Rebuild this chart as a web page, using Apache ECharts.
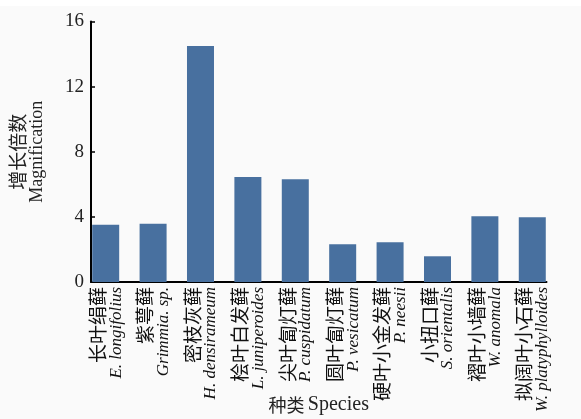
<!DOCTYPE html>
<html>
<head>
<meta charset="utf-8">
<script src="https://cdn.jsdelivr.net/npm/echarts@6/dist/echarts.min.js"></script>
<style>
  html, body { margin: 0; padding: 0; background: #fafafa; }
  body { border-top: 6px solid #ffffff; box-sizing: border-box; }
  #chart { width: 581px; height: 413px; }
</style>
</head>
<body>
<div id="chart"></div>
<script>
// Species names: Chinese common name and Latin name
const speciesZh = ['长叶绢藓', '紫萼藓', '密枝灰藓', '桧叶白发藓', '尖叶匐灯藓',
                   '圆叶匐灯藓', '硬叶小金发藓', '小扭口藓', '褶叶小墙藓', '拟阔叶小石藓'];
const speciesLatin = ['E. longifolius', 'Grimmia. sp.', 'H. densirameum', 'L. juniperoides', 'P. cuspidatum',
                      'P. vesicatum', 'P. neesii', 'S. orientalis', 'W. anomala', 'W. platyphylloides'];
// Growth magnification per species
const magnification = [3.52, 3.58, 14.5, 6.45, 6.31, 2.32, 2.44, 1.58, 4.04, 3.97];
// Y axis ticks
const yTicks = [0, 4, 8, 12, 16];

const serif = '"Liberation Serif", "Noto Sans CJK SC", serif';
const cjk = '"Noto Sans CJK SC", "Liberation Serif", serif';

const chart = echarts.init(document.getElementById('chart'));
chart.setOption({
  animation: false,
  grid: { left: 91, right: 34.5, top: 15.5, bottom: 137, outerBoundsMode: 'none', containLabel: false },
  xAxis: {
    type: 'value',
    min: -0.31,
    max: 9.3,
    splitLine: { show: false },
    axisTick: { show: false },
    axisLine: { show: true, onZero: false, lineStyle: { color: '#000', width: 2 } },
    axisLabel: {
      customValues: speciesZh.map((_, i) => i),
      rotate: 90,
      margin: 5,
      formatter: v => '{zh|' + speciesZh[v] + '}\n{la|' + speciesLatin[v] + '}',
      rich: {
        zh: { fontFamily: cjk, fontSize: 19, color: '#111', lineHeight: 21, align: 'right' },
        la: { fontFamily: serif, fontStyle: 'italic', fontSize: 17, color: '#111', lineHeight: 16, align: 'right' }
      }
    },
    name: '{zh|种类} {la|Species}',
    nameLocation: 'middle',
    nameMoveOverlap: false,
    nameGap: 113,
    nameTextStyle: {
      rich: {
        zh: { fontFamily: cjk, fontSize: 18, color: '#222' },
        la: { fontFamily: serif, fontSize: 20, color: '#222' }
      }
    }
  },
  yAxis: {
    type: 'value',
    min: yTicks[0],
    max: yTicks[yTicks.length - 1],
    interval: 4,
    splitLine: { show: false },
    axisLine: { show: true, onZero: false, lineStyle: { color: '#000', width: 2 } },
    axisTick: { show: true, inside: true, length: 4, lineStyle: { color: '#000', width: 1.5 } },
    axisLabel: { fontFamily: serif, fontSize: 19, color: '#222', margin: 7 },
    name: '{zh|增长倍数}\n{la|Magnification}',
    nameLocation: 'middle',
    nameMoveOverlap: false,
    nameGap: 45,
    nameTextStyle: {
      align: 'center',
      rich: {
        zh: { fontFamily: cjk, fontSize: 19, color: '#222', lineHeight: 21, align: 'center' },
        la: { fontFamily: serif, fontSize: 18, color: '#222', lineHeight: 18, align: 'center' }
      }
    }
  },
  series: [{
    type: 'bar',
    barWidth: 27,
    data: magnification.map((v, i) => [i, v]),
    itemStyle: { color: '#48709f' }
  }]
});
</script>
</body>
</html>
